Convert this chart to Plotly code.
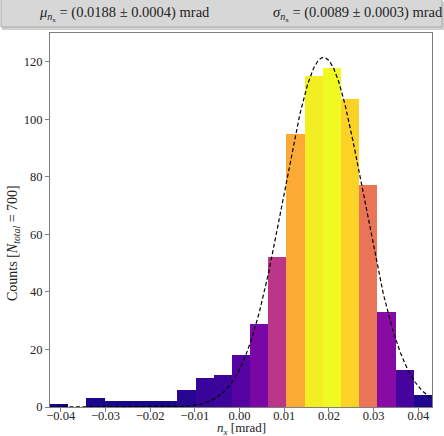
import numpy as np
import plotly.graph_objects as go

# ---- data ----
x_min, x_max, n_bins = -0.0424, 0.04305, 21
counts = [1, 0, 3, 2, 2, 2, 2, 6, 10, 11, 18, 29, 52, 95, 115, 118, 107, 77, 33, 13, 4]
fit_mu, fit_mu_err = 0.0188, 0.0004
fit_sigma, fit_sigma_err = 0.0089, 0.0003
fit_amp = 121.5
n_total = 700
x_ticks = [-0.04, -0.03, -0.02, -0.01, 0.00, 0.01, 0.02, 0.03, 0.04]
x_tick_labels = ["−0.04", "−0.03", "−0.02", "−0.01", "0.00", "0.01", "0.02", "0.03", "0.04"]
y_ticks = [0, 20, 40, 60, 80, 100, 120]

edges = np.linspace(x_min, x_max, n_bins + 1)
centers = 0.5 * (edges[:-1] + edges[1:])
bw = edges[1] - edges[0]

xg = np.linspace(x_min, x_max, 500)
yg = fit_amp * np.exp(-0.5 * ((xg - fit_mu) / fit_sigma) ** 2)

W, H = 444, 436
L, R, T, B = 50, 12, 33, 29
PW, PH = W - L - R, H - T - B

def px(xp):
    return (xp - L) / PW

def py(yp):
    return (H - B - yp) / PH

FONT = "Liberation Serif"
TXT = "#222222"
AX = "#7f7f7f"

fig = go.Figure()
fig.add_trace(go.Bar(
    x=centers, y=counts, width=bw,
    marker=dict(color=counts, colorscale="Plasma", cmin=0, cmax=max(counts),
                line=dict(width=0)),
    hoverinfo="x+y", showlegend=False,
))
fig.add_trace(go.Scatter(
    x=xg, y=yg, mode="lines",
    line=dict(color="black", width=1.2, dash="4px,2.5px"),
    showlegend=False, hoverinfo="skip",
))
# invisible helper trace so the tick-mark axis is drawn
fig.add_trace(go.Scatter(
    x=[x_min], y=[0], xaxis="x2", mode="markers", opacity=0,
    showlegend=False, hoverinfo="skip",
))

shapes = [
    dict(type="rect", xref="paper", yref="paper",
         x0=px(2), x1=px(444), y0=py(30), y1=py(2),
         fillcolor="rgba(120,120,120,0.35)", line=dict(width=0), layer="above"),
    dict(type="rect", xref="paper", yref="paper",
         x0=px(1), x1=px(442), y0=py(27), y1=py(-2),
         fillcolor="#d7d7d7", line=dict(color="#a8a8a8", width=1), layer="above"),
]

annotations = [
    dict(xref="paper", yref="paper", x=px(124), y=py(14), showarrow=False,
         text="<i>μ</i><sub><i>n</i><sub>x</sub></sub> = (%.4f ± %.4f) mrad" % (fit_mu, fit_mu_err),
         font=dict(family=FONT, size=14.5, color=TXT), xanchor="center", yanchor="middle"),
    dict(xref="paper", yref="paper", x=px(358), y=py(14), showarrow=False,
         text="<i>σ</i><sub><i>n</i><sub>x</sub></sub> = (%.4f ± %.4f) mrad" % (fit_sigma, fit_sigma_err),
         font=dict(family=FONT, size=14.5, color=TXT), xanchor="center", yanchor="middle"),
    dict(xref="paper", yref="paper", x=px(241), y=py(428.5), showarrow=False,
         text="<i>n<sub>x</sub></i> [mrad]",
         font=dict(family=FONT, size=13, color=TXT), xanchor="center", yanchor="middle"),
    dict(xref="paper", yref="paper", x=px(13), y=py(243), showarrow=False, textangle=-90,
         text="Counts [<i>N<sub>total</sub></i> = %d]" % n_total,
         font=dict(family=FONT, size=14, color=TXT), xanchor="center", yanchor="middle"),
]

fig.update_layout(
    width=W, height=H,
    margin=dict(l=L, r=R, t=T, b=B, autoexpand=False),
    paper_bgcolor="white", plot_bgcolor="white",
    bargap=0,
    shapes=shapes, annotations=annotations,
    font=dict(family=FONT, size=12, color=TXT),
    xaxis=dict(range=[x_min, x_max], tickvals=x_ticks, ticktext=x_tick_labels,
               showgrid=False, zeroline=False, showline=True, linecolor=AX, linewidth=1,
               mirror=True, ticks="", ticklabelstandoff=-3,
               tickfont=dict(family=FONT, size=12.5, color=TXT), automargin=False),
    xaxis2=dict(range=[x_min, x_max], tickvals=x_ticks, overlaying="x", anchor="y", side="bottom",
                showgrid=False, zeroline=False, showline=False, showticklabels=False,
                ticks="outside", ticklen=4, tickcolor=AX, automargin=False),
    yaxis=dict(range=[0, 130], tickvals=y_ticks,
               showgrid=False, zeroline=False, showline=True, linecolor=AX, linewidth=1,
               mirror=True, ticks="outside", ticklen=4, tickcolor=AX,
               tickfont=dict(family=FONT, size=12.5, color=TXT), automargin=False),
)

fig.write_html("out.html", config={"displayModeBar": False},
               post_script="document.body.style.margin='0';document.body.style.overflow='hidden';")
